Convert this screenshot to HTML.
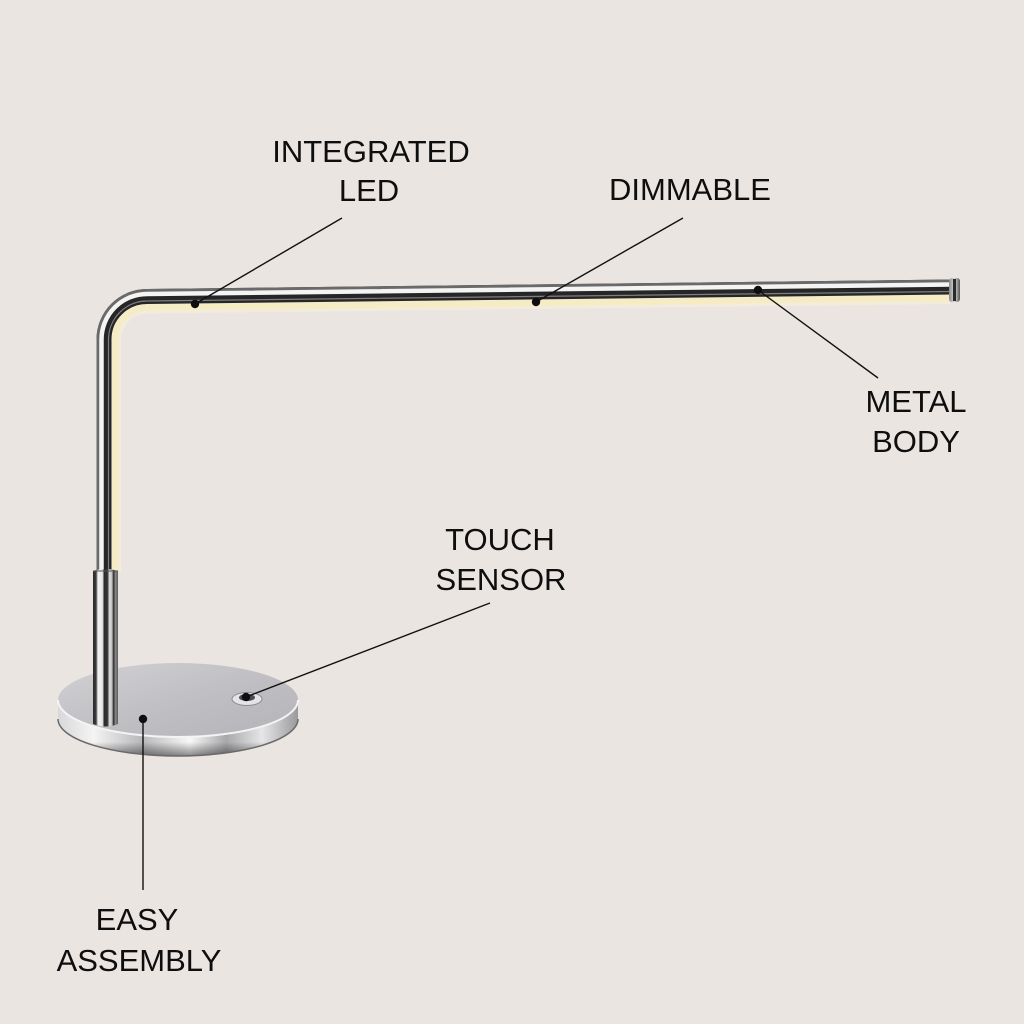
<!DOCTYPE html>
<html>
<head>
<meta charset="utf-8">
<style>
  html,body{margin:0;padding:0;background:#ebe5e2;}
  svg{display:block;}
  text{font-family:"Liberation Sans",Arial,sans-serif;font-size:31px;fill:#0e0e0e;text-anchor:middle;}
</style>
</head>
<body>
<svg width="1024" height="1024" viewBox="0 0 1024 1024" xmlns="http://www.w3.org/2000/svg">
  <defs>
    <linearGradient id="rim" x1="0" y1="0" x2="1" y2="0">
      <stop offset="0" stop-color="#d8d8da"/>
      <stop offset="0.15" stop-color="#f4f4f4"/>
      <stop offset="0.35" stop-color="#b8b8bb"/>
      <stop offset="0.55" stop-color="#f8f8f8"/>
      <stop offset="0.7" stop-color="#a8a8ab"/>
      <stop offset="0.85" stop-color="#e6e6e8"/>
      <stop offset="1" stop-color="#9a9a9d"/>
    </linearGradient>
    <linearGradient id="rimv" x1="0" y1="0" x2="0" y2="1">
      <stop offset="0" stop-color="#ffffff" stop-opacity="0"/>
      <stop offset="0.75" stop-color="#000" stop-opacity="0"/>
      <stop offset="1" stop-color="#000" stop-opacity="0.45"/>
    </linearGradient>
    <linearGradient id="top" x1="0" y1="0" x2="1" y2="1">
      <stop offset="0" stop-color="#d2d2d5"/>
      <stop offset="0.5" stop-color="#c0c0c4"/>
      <stop offset="1" stop-color="#b4b4b8"/>
    </linearGradient>
    <linearGradient id="collar" x1="0" y1="0" x2="1" y2="0">
      <stop offset="0" stop-color="#2a2a2a"/>
      <stop offset="0.12" stop-color="#3a3a3a"/>
      <stop offset="0.2" stop-color="#f2f2f2"/>
      <stop offset="0.38" stop-color="#e8e8e8"/>
      <stop offset="0.45" stop-color="#2c2c2c"/>
      <stop offset="0.58" stop-color="#333"/>
      <stop offset="0.66" stop-color="#e0e0e0"/>
      <stop offset="0.76" stop-color="#bdbdbd"/>
      <stop offset="0.82" stop-color="#2a2a2a"/>
      <stop offset="0.9" stop-color="#8a8a8a"/>
      <stop offset="1" stop-color="#5a5a5a"/>
    </linearGradient>
    <linearGradient id="cap" x1="0" y1="0" x2="1" y2="0">
      <stop offset="0" stop-color="#888"/>
      <stop offset="0.5" stop-color="#dcdcdc"/>
      <stop offset="1" stop-color="#555"/>
    </linearGradient>
  </defs>

  <rect width="1024" height="1024" fill="#ebe5e2"/>

  <!-- base rim -->
  <path d="M58,700 L58,719 A120,37 0 0 0 298,719 L298,700 A120,37 0 0 1 58,700 Z" fill="url(#rim)"/>
  <path d="M58,700 L58,719 A120,37 0 0 0 298,719 L298,700 A120,37 0 0 1 58,700 Z" fill="url(#rimv)"/>
  <path d="M58,719 A120,37 0 0 0 298,719" fill="none" stroke="#6a6a6c" stroke-width="1.5"/>
  <!-- base top -->
  <ellipse cx="178" cy="700" rx="120" ry="37" fill="url(#top)"/>
  <path d="M58,700 A120,37 0 0 0 298,700" fill="none" stroke="#f4f4f4" stroke-width="2"/>

  <!-- touch button -->
  <ellipse cx="247" cy="699" rx="15" ry="6.5" fill="#e4e4e6" stroke="#8c8c90" stroke-width="1"/>
  <ellipse cx="247" cy="697.5" rx="8" ry="3.6" fill="#4a4a50"/>

  <!-- tube: glow + yellow strip -->
  <path d="M115,572 L115,339.5 A32.5,32.5 0 0 1 147,307.5 L950,298" fill="none" stroke="#fbf3d6" stroke-width="12" opacity="0.5"/>
  <path d="M115,572 L115,339.5 A32.5,32.5 0 0 1 147,307.5 L950,298" fill="none" stroke="#f5ecc4" stroke-width="6"/>
  <!-- tube main dark -->
  <path d="M104,575 L104,339.5 A43,43 0 0 1 147,296.5 L951,287" fill="none" stroke="#262626" stroke-width="15"/>
  <!-- outer gray edge -->
  <path d="M98,575 L98,339.5 A49,49 0 0 1 147,290.5 L951,281" fill="none" stroke="#6a6a6a" stroke-width="3"/>
  <!-- white highlight -->
  <path d="M101.5,575 L101.5,339.5 A45.5,45.5 0 0 1 147,294 L951,284.5" fill="none" stroke="#f4f4f4" stroke-width="4.5"/>
  <!-- inner thin highlight -->
  <path d="M108.5,575 L108.5,339.5 A38.5,38.5 0 0 1 147,301 L951,291.5" fill="none" stroke="#7e7e7e" stroke-width="1.2"/>

  <!-- end cap -->
  <rect x="949" y="278" width="11" height="24" rx="3" fill="url(#cap)"/>
  <rect x="953" y="279" width="3" height="22" fill="#2a2a2a"/>

  <!-- collar -->
  <path d="M93,571 Q105.5,567 118,571 L118,724 Q105.5,729 93,724 Z" fill="url(#collar)"/>
  <line x1="93" y1="571" x2="118" y2="571" stroke="#555" stroke-width="1"/>

  <!-- leader lines -->
  <g stroke="#111" stroke-width="1.4" fill="none">
    <line x1="195" y1="304" x2="342" y2="218"/>
    <line x1="536" y1="302" x2="683" y2="218"/>
    <line x1="758" y1="290" x2="878" y2="378"/>
    <line x1="246" y1="697" x2="490" y2="603"/>
    <line x1="143" y1="719" x2="143" y2="890"/>
  </g>
  <g fill="#0e0e0e">
    <circle cx="195" cy="304" r="4.2"/>
    <circle cx="536" cy="302" r="4.2"/>
    <circle cx="758" cy="290" r="4.2"/>
    <circle cx="246" cy="697" r="4.2"/>
    <circle cx="143" cy="719" r="4.2"/>
  </g>

  <!-- labels -->
  <text x="371" y="162">INTEGRATED</text>
  <text x="369" y="201">LED</text>
  <text x="690" y="200">DIMMABLE</text>
  <text x="916" y="412">METAL</text>
  <text x="916" y="452">BODY</text>
  <text x="500" y="550">TOUCH</text>
  <text x="501" y="590">SENSOR</text>
  <text x="137" y="930">EASY</text>
  <text x="139" y="971">ASSEMBLY</text>
</svg>
</body>
</html>
